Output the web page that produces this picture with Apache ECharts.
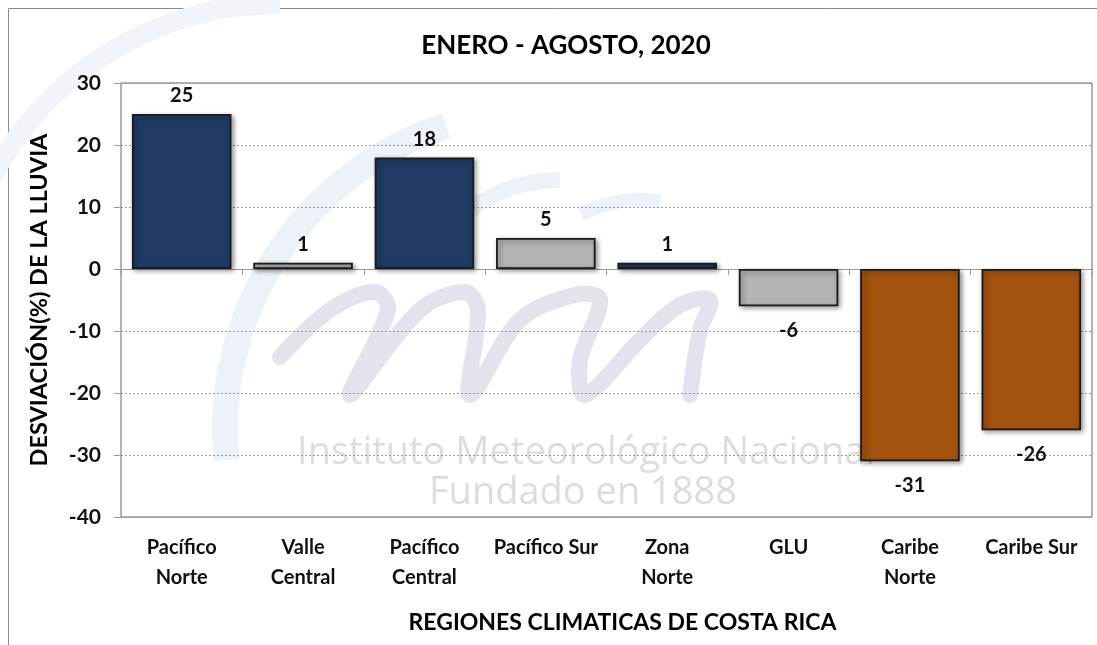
<!DOCTYPE html>
<html>
<head>
<meta charset="utf-8">
<script src="https://cdn.jsdelivr.net/npm/echarts@6/dist/echarts.min.js"></script>
<style>
html,body{margin:0;padding:0;background:#fff;}
#c{width:1097px;height:645px;}
</style>
</head>
<body>
<div id="c"></div>
<script>
const categories = ['Pacífico\nNorte','Valle\nCentral','Pacífico\nCentral','Pacífico Sur','Zona\nNorte','GLU','Caribe\nNorte','Caribe Sur'];
const deviation = [25, 1, 18, 5, 1, -6, -31, -26];
const yTicks = { min: -40, max: 30, interval: 10 };
const titleText = 'ENERO - AGOSTO, 2020';
const yName = 'DESVIACIÓN(%) DE LA LLUVIA';
const xName = 'REGIONES CLIMATICAS DE COSTA RICA';
const watermark1 = 'Instituto Meteorológico Nacional';
const watermark2 = 'Fundado en 1888';

// styling (kept separate from data)
const BLUE = '#1F3B64', GRAY = '#B4B4B4', BROWN = '#A4520F';
const barColors = [BLUE, GRAY, BLUE, GRAY, BLUE, GRAY, BROWN, BROWN];
const FONT = 'Lato';

const chart = echarts.init(document.getElementById('c'), null, {renderer: 'canvas'});

const seriesData = deviation.map((v, i) => ({
  value: v,
  itemStyle: { color: barColors[i] },
  label: { position: v >= 0 ? 'top' : 'bottom', distance: v >= 0 ? 8 : 14 }
}));

chart.setOption({
  animation: false,
  backgroundColor: '#fff',
  title: {
    text: titleText, left: 561, top: 28, textAlign: 'center',
    textStyle: {fontFamily: FONT, fontWeight: 'bold', fontSize: 26, color: '#000'}
  },
  graphic: [
    {type: 'rect', z: -10, shape: {x: 8.5, y: 8.5, width: 1200, height: 700}, style: {fill: null, stroke: '#8a8a8a', lineWidth: 1}, silent: true},
    // faint logo swirl
    {type: 'arc', z: -5, shape: {cx: 280, cy: 330, r: 326, startAngle: Math.PI * 1.15, endAngle: Math.PI * 1.5}, style: {stroke: '#F1F5FA', lineWidth: 20, fill: null}, silent: true},
    {type: 'arc', z: -5, shape: {cx: 545, cy: 430, r: 320, startAngle: Math.PI * 0.97, endAngle: Math.PI * 1.4}, style: {stroke: '#EDF2F8', lineWidth: 26, fill: null}, silent: true},
    {type: 'arc', z: -5, shape: {cx: 560, cy: 330, r: 150, startAngle: Math.PI * 1.3, endAngle: Math.PI * 1.5}, style: {stroke: '#EDF2F8', lineWidth: 16, fill: null}, silent: true},
    {type: 'arc', z: -5, shape: {cx: 640, cy: 330, r: 130, startAngle: Math.PI * 1.35, endAngle: Math.PI * 1.55}, style: {stroke: '#EDF2F8', lineWidth: 14, fill: null}, silent: true},
    {type: 'polyline', z: -4, shape: {smooth: 0.35, points: [[280,357],[330,310],[375,292],[388,310],[350,395],[420,310],[465,292],[478,310],[470,395],[520,320],[575,295],[600,300],[580,360],[585,395],[640,340],[680,305],[710,300],[700,330],[690,395]]}, style: {stroke: '#E3E3EE', lineWidth: 16, fill: null, lineCap: 'round', lineJoin: 'round'}, silent: true},
    {type: 'text', z: -3, x: 586, y: 434, style: {text: watermark1, textAlign: 'center', fill: '#DDDDDD', fontFamily: 'Open Sans', fontSize: 38}, silent: true},
    {type: 'text', z: -3, x: 583, y: 474, style: {text: watermark2, textAlign: 'center', fill: '#DDDDDD', fontFamily: 'Open Sans', fontSize: 38}, silent: true}
  ],
  grid: {
    left: 121, right: 5, top: 83, bottom: 128,
    show: true, borderColor: '#666', borderWidth: 1, backgroundColor: 'transparent'
  },
  xAxis: [
    {
      type: 'category', data: categories, position: 'bottom',
      axisLine: {show: false, onZero: false}, axisTick: {show: false},
      axisLabel: {interval: 0, margin: 16, fontFamily: FONT, fontWeight: 'bold', fontSize: 20, color: '#111', lineHeight: 30},
      name: xName, nameLocation: 'middle', nameGap: 94,
      nameTextStyle: {fontFamily: FONT, fontWeight: 'bold', fontSize: 23, color: '#000', padding: [0, 0, 0, 32]}
    },
    {
      type: 'category', data: categories, position: 'bottom',
      axisLine: {show: true, onZero: true, lineStyle: {color: '#999', width: 1}},
      axisTick: {show: true, length: 6, lineStyle: {color: '#999'}},
      axisLabel: {show: false}
    }
  ],
  yAxis: {
    type: 'value', min: yTicks.min, max: yTicks.max, interval: yTicks.interval,
    axisLine: {show: false},
    axisTick: {show: true, length: 7, lineStyle: {color: '#999'}},
    axisLabel: {fontFamily: FONT, fontWeight: 'bold', fontSize: 21, color: '#111', margin: 20},
    splitLine: {show: true, lineStyle: {color: '#9a9a9a', type: [2, 2], width: 1}},
    name: yName, nameLocation: 'middle', nameGap: 70, nameRotate: 90,
    nameTextStyle: {fontFamily: FONT, fontWeight: 'bold', fontSize: 23.5, color: '#000'}
  },
  series: [{
    type: 'bar', xAxisIndex: 1, data: seriesData, barWidth: '82%', z: 5,
    itemStyle: {borderColor: '#1a1a1a', borderWidth: 1.8, shadowColor: 'rgba(0,0,0,0.45)', shadowBlur: 5, shadowOffsetX: 2, shadowOffsetY: 2},
    label: {show: true, fontFamily: FONT, fontWeight: 'bold', fontSize: 20, color: '#111'}
  }]
});
</script>
</body>
</html>
